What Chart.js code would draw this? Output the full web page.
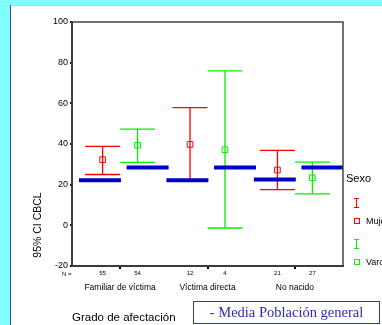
<!DOCTYPE html>
<html><head><meta charset="utf-8">
<script src="https://cdn.jsdelivr.net/npm/chart.js@4.4.0/dist/chart.umd.min.js"></script>
<style>
html,body{margin:0;padding:0;width:382px;height:325px;overflow:hidden;background:#fff;}
#wrap{position:relative;width:382px;height:325px;overflow:hidden;background:#fff;font-family:"Liberation Sans",Arial,sans-serif;color:#000;}
.abs{position:absolute;white-space:nowrap;}
#cyanTop{left:0;top:0;width:382px;height:5px;background:#80ffff;}
#lav{left:0;top:5px;width:382px;height:1px;background:#c8c8f0;}
#cyanLeft{left:0;top:0;width:10px;height:325px;background:#80ffff;}
#blueLine{left:10px;top:5px;width:1px;height:320px;background:#3a3aff;}
canvas{position:absolute;left:0;top:0;}
#ytitle{left:-13px;top:219px;width:100px;height:12px;line-height:12px;font-size:10.5px;text-align:center;transform:rotate(-90deg);transform-origin:50% 50%;}
#nlab{left:62px;top:271px;font-size:6px;line-height:7px;}
#sexo{left:346px;top:171px;font-size:11px;line-height:14px;}
.leg{font-size:9px;line-height:11px;}
#box{left:193px;top:301px;width:185px;height:21px;border:1px solid #3333cc;font-family:"Liberation Serif","Times New Roman",serif;font-size:14.5px;line-height:21px;text-align:center;color:#2d2db4;}
</style>
</head><body>
<div id="wrap">
  <div class="abs" id="cyanTop"></div>
  <div class="abs" id="lav"></div>
  <div class="abs" id="cyanLeft"></div>
  <div class="abs" id="blueLine"></div>
  <canvas id="c" width="382" height="325"></canvas>
  <div class="abs" id="ytitle">95% CI CBCL</div>
  <div class="abs" id="nlab">N =</div>
  <div class="abs" id="sexo">Sexo</div>
  <svg class="abs" style="left:0;top:0" width="382" height="325">
    <g stroke="#ff0000" stroke-width="1" fill="none">
      <line x1="356.5" y1="198" x2="356.5" y2="208"/>
      <line x1="354" y1="198.5" x2="359" y2="198.5"/>
      <line x1="354" y1="207.5" x2="359" y2="207.5"/>
      <rect x="354.5" y="218.5" width="5" height="5"/>
    </g>
    <g stroke="#00f000" stroke-width="1" fill="none">
      <line x1="356.5" y1="239" x2="356.5" y2="249"/>
      <line x1="354" y1="239.5" x2="359" y2="239.5"/>
      <line x1="354" y1="248.5" x2="359" y2="248.5"/>
      <rect x="354.5" y="259.5" width="5" height="5"/>
    </g>
  </svg>
  <div class="abs leg" style="left:366px;top:215.5px;">Mujeres</div>
  <div class="abs leg" style="left:366px;top:256.5px;">Varones</div>
  <div class="abs" id="box">- Media Población general</div>
</div>
<script>
// ---- data ----
const categories = ['Familiar de víctima', 'Víctima directa', 'No nacido'];
const seriesNames = ['Mujeres', 'Varones'];
const meanMujer = [32.3, 39.8, 27.2];
const lowMujer  = [25.0, 22.0, 17.6];
const highMujer = [38.8, 57.9, 36.9];
const meanVaron = [39.4, 37.2, 23.4];
const lowVaron  = [31.0, -1.3, 15.5];
const highVaron = [47.3, 76.0, 31.1];
const nMujer = [55, 12, 21];
const nVaron = [54, 4, 27];
const popMujer = [22.2, 22.2, 22.6];
const popVaron = [28.5, 28.5, 28.5];
const yTicks = [-20, 0, 20, 40, 60, 80, 100];

// ---- layout constants (not data) ----
const OFF = 0.2, CAP = 0.2;
const RED = '#ff0000', GREEN = '#00f000', BLUE = '#0000c8';
const FONT = "'Liberation Sans', Arial, sans-serif";

function errPts(lo, hi, off) {
  const pts = [];
  lo.forEach((l, i) => {
    const c = i + 1 + off, h = hi[i];
    pts.push({x: c, y: l}, {x: c, y: h}, {x: c, y: null});
    pts.push({x: c - CAP, y: h}, {x: c + CAP, y: h}, {x: c, y: null});
    pts.push({x: c - CAP, y: l}, {x: c + CAP, y: l}, {x: c, y: null});
  });
  return pts;
}
function meanPts(m, off) { return m.map((v, i) => ({x: i + 1 + off, y: v})); }
function popPts(vals, a, b) {
  const pts = [];
  vals.forEach((v, i) => { const c = i + 1; pts.push({x: c + a, y: v}, {x: c + b, y: v}, {x: c, y: null}); });
  return pts;
}

const catTicks = categories.map((_, i) => i + 1);
const nTicks = [], nLabels = [];
categories.forEach((_, i) => { nTicks.push(i + 1 - OFF, i + 1 + OFF); nLabels.push(String(nMujer[i]), String(nVaron[i])); });

const lineDs = (label, data, color, width, order) => ({
  label, data, borderColor: color, borderWidth: width, pointRadius: 0, showLine: true,
  spanGaps: false, fill: false, order, borderCapStyle: 'butt', tension: 0
});

const framePlugin = {
  id: 'frame',
  afterDraw(chart) {
    const {ctx, chartArea: a} = chart;
    ctx.save();
    ctx.strokeStyle = '#444';
    ctx.lineWidth = 1.5;
    ctx.strokeRect(a.left, a.top, a.right - a.left, a.bottom - a.top);
    ctx.restore();
  }
};

new Chart(document.getElementById('c'), {
  type: 'line',
  data: {
    datasets: [
      lineDs('Media población (Mujeres)', popPts(popMujer, -0.47, 0.01), BLUE, 4, 0),
      lineDs('Media población (Varones)', popPts(popVaron, 0.075, 0.555), BLUE, 4, 0),
      {label: seriesNames[0], data: meanPts(meanMujer, -OFF), showLine: false, pointStyle: 'rect', pointRadius: 4,
       pointBorderColor: RED, pointBackgroundColor: 'rgba(0,0,0,0)', pointBorderWidth: 1, order: 1},
      {label: seriesNames[1], data: meanPts(meanVaron, OFF), showLine: false, pointStyle: 'rect', pointRadius: 4,
       pointBorderColor: GREEN, pointBackgroundColor: 'rgba(0,0,0,0)', pointBorderWidth: 1, order: 1},
      lineDs('IC 95% ' + seriesNames[0], errPts(lowMujer, highMujer, -OFF), RED, 1.3, 2),
      lineDs('IC 95% ' + seriesNames[1], errPts(lowVaron, highVaron, OFF), GREEN, 1.3, 2)
    ]
  },
  options: {
    responsive: false,
    animation: false,
    devicePixelRatio: 1,
    layout: {padding: {left: 11, right: 39, top: 22, bottom: 0}},
    plugins: {legend: {display: false}, tooltip: {enabled: false}},
    scales: {
      x: {
        type: 'linear', position: 'bottom', min: 0.45, max: 3.55, weight: 0,
        afterBuildTicks: s => { s.ticks = catTicks.map(v => ({value: v})); },
        afterFit: s => { s.height = 3; },
        ticks: {display: false},
        grid: {display: true, drawOnChartArea: false, drawTicks: true, tickLength: 3, color: '#000', lineWidth: 2},
        border: {display: true, color: '#222', width: 2}
      },
      xN: {
        type: 'linear', position: 'bottom', min: 0.45, max: 3.55, weight: 1,
        afterBuildTicks: s => { s.ticks = nTicks.map(v => ({value: v})); },
        afterFit: s => { s.height = 12; },
        ticks: {autoSkip: false, maxRotation: 0, padding: 1, color: '#000', font: {family: FONT, size: 6},
                callback: (v, i) => nLabels[i]},
        grid: {display: false, drawTicks: false},
        border: {display: false}
      },
      xCat: {
        type: 'linear', position: 'bottom', min: 0.45, max: 3.55, weight: 2,
        afterBuildTicks: s => { s.ticks = catTicks.map(v => ({value: v})); },
        afterFit: s => { s.height = 44; },
        ticks: {autoSkip: false, maxRotation: 0, padding: 2, color: '#000', font: {family: FONT, size: 8.5},
                callback: (v, i) => categories[i]},
        grid: {display: false, drawTicks: false},
        border: {display: false},
        title: {display: true, text: 'Grado de afectación', align: 'start', color: '#000',
                font: {family: FONT, size: 11.5}, padding: {top: 0, bottom: 0}}
      },
      y: {
        type: 'linear', position: 'left', min: -20, max: 100,
        afterBuildTicks: s => { s.ticks = yTicks.map(v => ({value: v})); },
        afterFit: s => { s.width = 61; },
        ticks: {padding: 2, color: '#000', font: {family: FONT, size: 9}},
        grid: {display: true, drawOnChartArea: false, drawTicks: true, tickLength: 2, color: '#000', lineWidth: 2},
        border: {display: true, color: '#333', width: 2}
      }
    }
  },
  plugins: [framePlugin]
});
</script>
</body></html>
